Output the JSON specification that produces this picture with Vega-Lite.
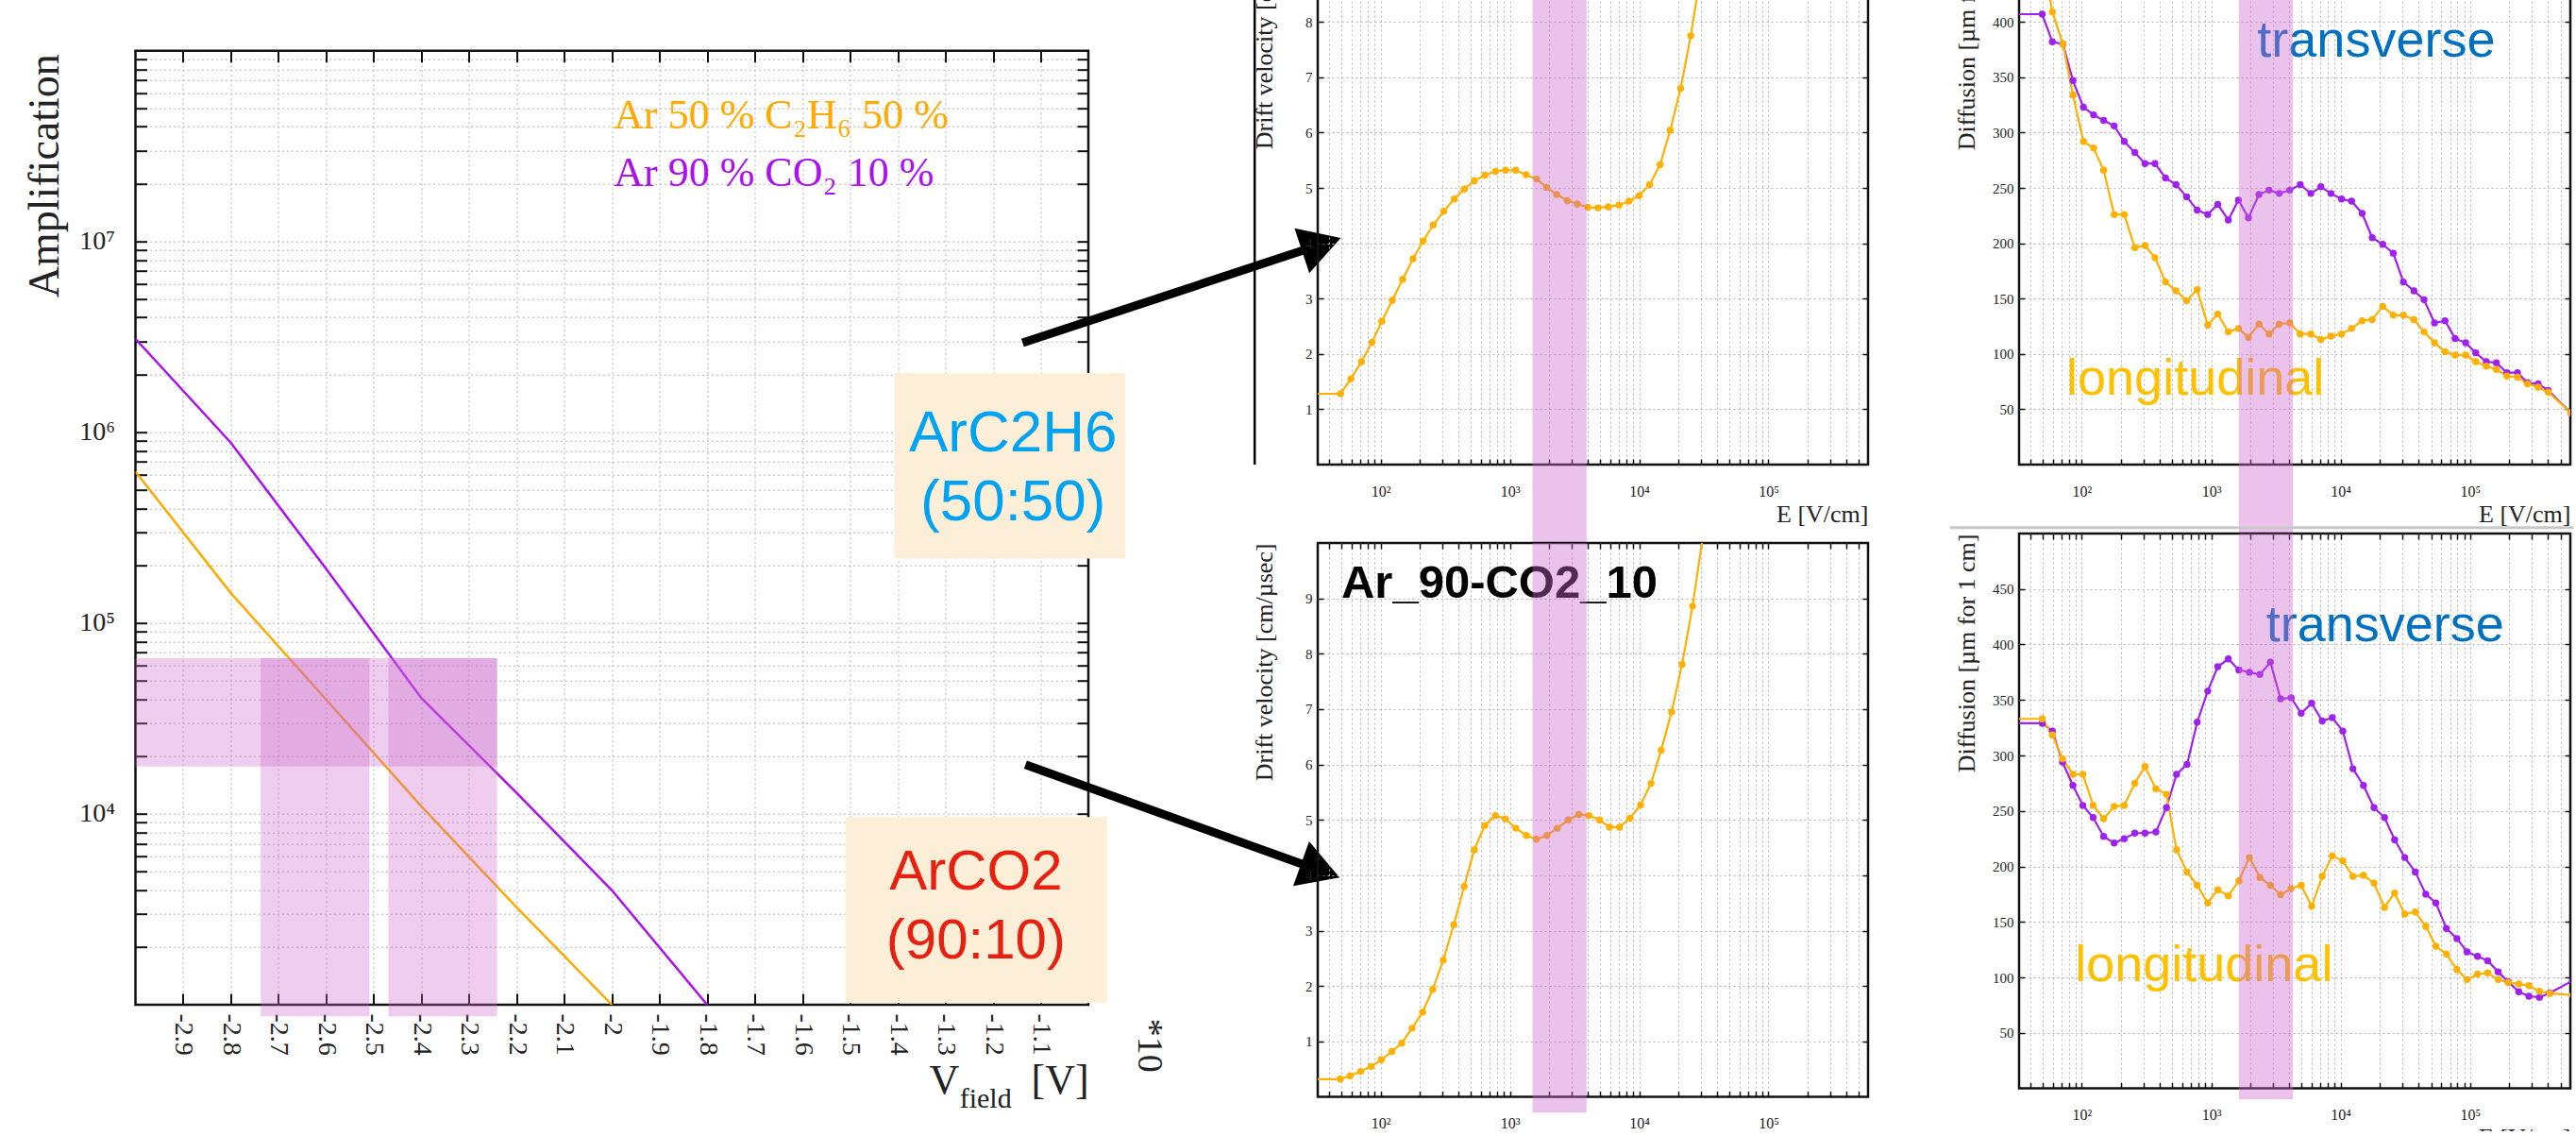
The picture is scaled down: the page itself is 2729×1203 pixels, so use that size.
{
  "$schema": "https://vega.github.io/schema/vega-lite/v6.json",
  "background": "white",
  "padding": {"left": 22.5, "top": -97, "right": 0, "bottom": -30},
  "bounds": "flush",
  "spacing": 1252.5,
  "hconcat": [
    {
      "bounds": "flush",
      "spacing": 47.7,
      "vconcat": [
        {
          "width": 1009.5,
          "height": 100,
          "view": {"stroke": null},
          "data": {"values": [{"a": 1}]},
          "mark": {"type": "text", "text": " "},
          "encoding": {}
        },
        {
          "width": 1009.5,
          "height": 1010.3,
          "resolve": {"axis": {"x": "independent", "y": "independent"}},
          "layer": [
            {
              "data": {"values": [
                {"gas": "ArC2H6", "V": -3, "amp": 622000},
                {"gas": "ArC2H6", "V": -2.8, "amp": 144000},
                {"gas": "ArC2H6", "V": -2.6, "amp": 39800},
                {"gas": "ArC2H6", "V": -2.4, "amp": 10960},
                {"gas": "ArC2H6", "V": -2.2, "amp": 3240},
                {"gas": "ArC2H6", "V": -2, "amp": 1000},
                {"gas": "ArCO2", "V": -3, "amp": 3090000},
                {"gas": "ArCO2", "V": -2.8, "amp": 883000},
                {"gas": "ArCO2", "V": -2.6, "amp": 193000},
                {"gas": "ArCO2", "V": -2.4, "amp": 40500},
                {"gas": "ArCO2", "V": -2.2, "amp": 12900},
                {"gas": "ArCO2", "V": -2, "amp": 3980},
                {"gas": "ArCO2", "V": -1.8, "amp": 1000}
              ]},
              "mark": {"type": "line", "strokeWidth": 2.5, "clip": true},
              "encoding": {
                "x": {"field": "V", "type": "quantitative",
                  "scale": {"domain": [-3, -1], "nice": false, "zero": false},
                  "axis": {"values": [-2.9, -2.8, -2.7, -2.6, -2.5, -2.4, -2.3, -2.2, -2.1, -2, -1.9, -1.8, -1.7, -1.6, -1.5, -1.4, -1.3, -1.2, -1.1],
                    "labelExpr": "'' + datum.value", "labelAngle": 90, "labelAlign": "left", "labelBaseline": "middle",
                    "labelFontSize": 28, "labelPadding": 21, "tickSize": -12, "tickWidth": 2, "grid": true, "title": null}},
                "y": {"field": "amp", "type": "quantitative",
                  "scale": {"type": "log", "domain": [1000, 100000000], "nice": false},
                  "axis": {"values": [2000, 3000, 4000, 5000, 6000, 7000, 8000, 9000, 10000, 20000, 30000, 40000, 50000, 60000, 70000, 80000, 90000, 100000, 200000, 300000, 400000, 500000, 600000, 700000, 800000, 900000, 1000000, 2000000, 3000000, 4000000, 5000000, 6000000, 7000000, 8000000, 9000000, 10000000, 20000000, 30000000, 40000000, 50000000, 60000000, 70000000, 80000000, 90000000],
                    "labelExpr": "datum.value == 10000 ? '10⁴' : datum.value == 100000 ? '10⁵' : datum.value == 1000000 ? '10⁶' : datum.value == 10000000 ? '10⁷' : ''",
                    "labelFontSize": 28, "labelPadding": 34, "tickSize": -12, "tickWidth": 2, "grid": true,
                    "title": "Amplification", "titleFontSize": 46, "titleAngle": -90, "titleX": -82, "titleY": 3,
                    "titleAlign": "right", "titleBaseline": "alphabetic"}},
                "color": {"field": "gas", "type": "nominal", "scale": {"domain": ["ArC2H6", "ArCO2", "transverse", "longitudinal"], "range": ["#ffaa00", "#aa10f0", "#a020f0", "#ffb000"]}, "legend": null}
              }
            },
            {
              "data": {"values": [{"V": -2, "amp": 10000}]},
              "mark": {"type": "point", "opacity": 0},
              "encoding": {
                "x": {"field": "V", "type": "quantitative",
                  "axis": {"orient": "top", "values": [-2.9, -2.8, -2.7, -2.6, -2.5, -2.4, -2.3, -2.2, -2.1, -2, -1.9, -1.8, -1.7, -1.6, -1.5, -1.4, -1.3, -1.2, -1.1],
                    "labels": false, "grid": false, "tickSize": -12, "tickWidth": 2, "title": null}},
                "y": {"field": "amp", "type": "quantitative",
                  "axis": {"orient": "right", "values": [2000, 3000, 4000, 5000, 6000, 7000, 8000, 9000, 10000, 20000, 30000, 40000, 50000, 60000, 70000, 80000, 90000, 100000, 200000, 300000, 400000, 500000, 600000, 700000, 800000, 900000, 1000000, 2000000, 3000000, 4000000, 5000000, 6000000, 7000000, 8000000, 9000000, 10000000, 20000000, 30000000, 40000000, 50000000, 60000000, 70000000, 80000000, 90000000],
                    "labels": false, "grid": false, "tickSize": -12, "tickWidth": 2, "title": null}}
              }
            },
            {
              "data": {"values": [
                {"x1": -3, "x2": -2.241, "y1": 17700, "y2": 65500},
                {"x1": -2.737, "x2": -2.509, "y1": 870, "y2": 65500},
                {"x1": -2.469, "x2": -2.241, "y1": 870, "y2": 65500}
              ]},
              "mark": {"type": "rect", "color": "#cc66cc", "opacity": 0.33, "clip": false},
              "encoding": {
                "x": {"field": "x1", "type": "quantitative", "axis": null},
                "x2": {"field": "x2"},
                "y": {"field": "y1", "type": "quantitative", "axis": null},
                "y2": {"field": "y2"}
              }
            },
            {
              "data": {"values": [
                {"gas": "ArC2H6", "label": "Ar 50 % C₂H₆ 50 %", "x": -1.996, "y": 39170000},
                {"gas": "ArCO2", "label": "Ar 90 % CO₂ 10 %", "x": -1.996, "y": 19450000}
              ]},
              "mark": {"type": "text", "font": "Liberation Serif", "fontSize": 44, "align": "left", "baseline": "alphabetic"},
              "encoding": {
                "x": {"field": "x", "type": "quantitative", "axis": null},
                "y": {"field": "y", "type": "quantitative", "axis": null},
                "text": {"field": "label"},
                "color": {"field": "gas", "type": "nominal", "legend": null}
              }
            },
            {
              "data": {"values": [
                {"x1": -1.407, "x2": -0.922, "y1": 217800, "y2": 2046000},
                {"x1": -1.51, "x2": -0.961, "y1": 1019, "y2": 9638}
              ]},
              "mark": {"type": "rect", "color": "#fdefd7", "opacity": 1, "clip": false},
              "encoding": {
                "x": {"field": "x1", "type": "quantitative", "axis": null},
                "x2": {"field": "x2"},
                "y": {"field": "y1", "type": "quantitative", "axis": null},
                "y2": {"field": "y2"}
              }
            },
            {
              "data": {"values": [
                {"label": "ArC2H6", "x": -1.158, "y": 794300},
                {"label": "(50:50)", "x": -1.158, "y": 345100}
              ]},
              "mark": {"type": "text", "font": "Liberation Sans", "fontSize": 62, "align": "center", "baseline": "alphabetic", "color": "#00a2f2", "clip": false},
              "encoding": {
                "x": {"field": "x", "type": "quantitative", "axis": null},
                "y": {"field": "y", "type": "quantitative", "axis": null},
                "text": {"field": "label"}
              }
            },
            {
              "data": {"values": [
                {"label": "ArCO2", "x": -1.236, "y": 4009},
                {"label": "(90:10)", "x": -1.236, "y": 1742}
              ]},
              "mark": {"type": "text", "font": "Liberation Sans", "fontSize": 60, "align": "center", "baseline": "alphabetic", "color": "#e82010", "clip": false},
              "encoding": {
                "x": {"field": "x", "type": "quantitative", "axis": null},
                "y": {"field": "y", "type": "quantitative", "axis": null},
                "text": {"field": "label"}
              }
            },
            {
              "data": {"values": [
                {"label": "V", "x": -1.3337, "y": 341},
                {"label": "[V]", "x": -1.1198, "y": 341}
              ]},
              "mark": {"type": "text", "font": "Liberation Serif", "fontSize": 44, "align": "left", "baseline": "alphabetic", "color": "#222", "clip": false},
              "encoding": {
                "x": {"field": "x", "type": "quantitative", "axis": null},
                "y": {"field": "y", "type": "quantitative", "axis": null},
                "text": {"field": "label"}
              }
            },
            {
              "data": {"values": [{"label": "field", "x": -1.2701, "y": 288}]},
              "mark": {"type": "text", "font": "Liberation Serif", "fontSize": 30, "align": "left", "baseline": "alphabetic", "color": "#222", "clip": false},
              "encoding": {
                "x": {"field": "x", "type": "quantitative", "axis": null},
                "y": {"field": "y", "type": "quantitative", "axis": null},
                "text": {"field": "label"}
              }
            },
            {
              "data": {"values": [{"label": "*10", "x": -0.8723, "y": 611}]},
              "mark": {"type": "text", "font": "Liberation Serif", "fontSize": 38, "align": "center", "baseline": "middle", "angle": 90, "color": "#222", "clip": false},
              "encoding": {
                "x": {"field": "x", "type": "quantitative", "axis": null},
                "y": {"field": "y", "type": "quantitative", "axis": null},
                "text": {"field": "label"}
              }
            },
            {
              "data": {"values": [
                {"x": -1.138, "y": 2944000, "x2": -0.511, "y2": 9660000},
                {"x": -1.132, "y": 18110, "x2": -0.513, "y2": 5047}
              ]},
              "mark": {"type": "rule", "color": "black", "strokeWidth": 9, "clip": false},
              "encoding": {
                "x": {"field": "x", "type": "quantitative", "axis": null},
                "y": {"field": "y", "type": "quantitative", "axis": null},
                "x2": {"field": "x2"},
                "y2": {"field": "y2"}
              }
            },
            {
              "data": {"values": [{"x": -0.511, "y": 9660000}]},
              "mark": {"type": "point", "shape": "triangle-right", "size": 2500, "filled": true, "color": "black", "opacity": 1, "angle": -18.2, "clip": false},
              "encoding": {
                "x": {"field": "x", "type": "quantitative", "axis": null},
                "y": {"field": "y", "type": "quantitative", "axis": null}
              }
            },
            {
              "data": {"values": [{"x": -0.513, "y": 5047}]},
              "mark": {"type": "point", "shape": "triangle-right", "size": 2500, "filled": true, "color": "black", "opacity": 1, "angle": 19.7, "clip": false},
              "encoding": {
                "x": {"field": "x", "type": "quantitative", "axis": null},
                "y": {"field": "y", "type": "quantitative", "axis": null}
              }
            }
          ]
        }
      ]
    },
    {
      "bounds": "flush",
      "spacing": 743,
      "hconcat": [
        {
          "bounds": "flush",
          "spacing": 83,
          "vconcat": [
            {
              "width": 583,
              "height": 586,
              "resolve": {"axis": {"x": "independent", "y": "independent"}},
              "layer": [
                {
                  "data": {"name": "midTop", "values": [
                    {"E": 30, "v": 1.28}, {"E": 49, "v": 1.28}, {"E": 58.9, "v": 1.55}, {"E": 71, "v": 1.86}, {"E": 85.8, "v": 2.21},
                    {"E": 102, "v": 2.59}, {"E": 123, "v": 2.97}, {"E": 148, "v": 3.35}, {"E": 178, "v": 3.72}, {"E": 213, "v": 4.04},
                    {"E": 255, "v": 4.33}, {"E": 308, "v": 4.58}, {"E": 371, "v": 4.8}, {"E": 444, "v": 4.98}, {"E": 531, "v": 5.13},
                    {"E": 641, "v": 5.23}, {"E": 773, "v": 5.3}, {"E": 925, "v": 5.32}, {"E": 1107, "v": 5.32}, {"E": 1334, "v": 5.24},
                    {"E": 1610, "v": 5.16}, {"E": 1926, "v": 5.01}, {"E": 2303, "v": 4.88}, {"E": 2779, "v": 4.77}, {"E": 3324, "v": 4.71},
                    {"E": 4010, "v": 4.65}, {"E": 4797, "v": 4.64}, {"E": 5785, "v": 4.66}, {"E": 6980, "v": 4.69}, {"E": 8340, "v": 4.76},
                    {"E": 9970, "v": 4.86}, {"E": 12050, "v": 5.06}, {"E": 14530, "v": 5.42}, {"E": 17380, "v": 6.04}, {"E": 20950, "v": 6.8},
                    {"E": 25070, "v": 7.75}, {"E": 30000, "v": 8.9}, {"E": 36000, "v": 10.2}
                  ]},
                  "mark": {"type": "line", "color": "#ffb000", "strokeWidth": 2.2, "clip": true},
                  "encoding": {
                    "x": {"field": "E", "type": "quantitative",
                      "scale": {"type": "log", "domain": [32.6, 590000], "nice": false},
                      "axis": {"values": [40, 50, 60, 70, 80, 90, 100, 200, 300, 400, 500, 600, 700, 800, 900, 1000, 2000, 3000, 4000, 5000, 6000, 7000, 8000, 9000, 10000, 20000, 30000, 40000, 50000, 60000, 70000, 80000, 90000, 100000, 200000, 300000, 400000, 500000],
                        "labelExpr": "datum.value == 100 ? '10²' : datum.value == 1000 ? '10³' : datum.value == 10000 ? '10⁴' : datum.value == 100000 ? '10⁵' : ''",
                        "labelFontSize": 16, "labelPadding": 26, "labelBaseline": "top", "tickSize": -6, "tickWidth": 1.5, "grid": true,
                        "title": "E [V/cm]", "titleFontSize": 26, "titleX": 583, "titleY": 60, "titleAlign": "right", "titleBaseline": "alphabetic"}},
                    "y": {"field": "v", "type": "quantitative",
                      "scale": {"domain": [0, 10], "nice": false, "zero": false},
                      "axis": {"values": [1, 2, 3, 4, 5, 6, 7, 8, 9], "labelFontSize": 15, "labelPadding": 12, "tickSize": -6, "tickWidth": 1.5, "grid": true,
                        "title": "Drift velocity [cm/µsec]", "titleFontSize": 26, "titleAngle": -90, "titleX": -49, "titleY": 0, "titleAlign": "right", "titleBaseline": "alphabetic"}}
                  }
                },
                {
                  "data": {"name": "midTop"},
                  "mark": {"type": "point", "filled": true, "size": 55, "color": "#ffb000", "opacity": 1, "clip": true},
                  "encoding": {
                    "x": {"field": "E", "type": "quantitative", "axis": null},
                    "y": {"field": "v", "type": "quantitative", "axis": null}
                  }
                },
                {
                  "data": {"values": [{"E": 1000, "v": 5}]},
                  "mark": {"type": "point", "opacity": 0},
                  "encoding": {
                    "x": {"field": "E", "type": "quantitative",
                      "axis": {"orient": "top", "values": [40, 50, 60, 70, 80, 90, 100, 200, 300, 400, 500, 600, 700, 800, 900, 1000, 2000, 3000, 4000, 5000, 6000, 7000, 8000, 9000, 10000, 20000, 30000, 40000, 50000, 60000, 70000, 80000, 90000, 100000, 200000, 300000, 400000, 500000],
                        "labels": false, "grid": false, "tickSize": -6, "tickWidth": 1.5, "title": null}},
                    "y": {"field": "v", "type": "quantitative",
                      "axis": {"orient": "right", "values": [1, 2, 3, 4, 5, 6, 7, 8, 9], "labels": false, "grid": false, "tickSize": -6, "tickWidth": 1.5, "title": null}}
                  }
                },
                {
                  "data": {"values": [{"E": 10.6, "v1": 0, "v2": 10}]},
                  "mark": {"type": "rule", "color": "black", "strokeWidth": 2.5, "clip": false},
                  "encoding": {
                    "x": {"field": "E", "type": "quantitative", "axis": null},
                    "y": {"field": "v1", "type": "quantitative", "axis": null},
                    "y2": {"field": "v2"}
                  }
                },
                {
                  "data": {"values": [{"E1": 1496, "E2": 3917, "v1": -1.41, "v2": 10}]},
                  "mark": {"type": "rect", "color": "#cc66cc", "opacity": 0.4, "clip": false},
                  "encoding": {
                    "x": {"field": "E1", "type": "quantitative", "axis": null},
                    "x2": {"field": "E2"},
                    "y": {"field": "v1", "type": "quantitative", "axis": null},
                    "y2": {"field": "v2"}
                  }
                }
              ]
            },
            {
              "width": 583,
              "height": 586.6,
              "resolve": {"axis": {"x": "independent", "y": "independent"}},
              "layer": [
                {
                  "data": {"name": "midBottom", "values": [
                    {"E": 30, "v": 0.32}, {"E": 48.6, "v": 0.32}, {"E": 58, "v": 0.38}, {"E": 70, "v": 0.46}, {"E": 84.4, "v": 0.55},
                    {"E": 101, "v": 0.67}, {"E": 122, "v": 0.82}, {"E": 145.5, "v": 0.97}, {"E": 175, "v": 1.24}, {"E": 211, "v": 1.53},
                    {"E": 253, "v": 1.94}, {"E": 305, "v": 2.47}, {"E": 368, "v": 3.11}, {"E": 443, "v": 3.8}, {"E": 530, "v": 4.46},
                    {"E": 639, "v": 4.9}, {"E": 771, "v": 5.08}, {"E": 922, "v": 5.02}, {"E": 1111, "v": 4.85}, {"E": 1341, "v": 4.72},
                    {"E": 1603, "v": 4.65}, {"E": 1933, "v": 4.72}, {"E": 2330, "v": 4.85}, {"E": 2831, "v": 5.0}, {"E": 3417, "v": 5.1},
                    {"E": 4087, "v": 5.08}, {"E": 4929, "v": 5.0}, {"E": 5894, "v": 4.87}, {"E": 7047, "v": 4.87}, {"E": 8491, "v": 5.03},
                    {"E": 10250, "v": 5.27}, {"E": 12360, "v": 5.66}, {"E": 14790, "v": 6.26}, {"E": 17830, "v": 6.95}, {"E": 21490, "v": 7.81},
                    {"E": 25900, "v": 8.86}, {"E": 31000, "v": 10.1}
                  ]},
                  "mark": {"type": "line", "color": "#ffb000", "strokeWidth": 2.2, "clip": true},
                  "encoding": {
                    "x": {"field": "E", "type": "quantitative",
                      "scale": {"type": "log", "domain": [32.6, 590000], "nice": false},
                      "axis": {"values": [40, 50, 60, 70, 80, 90, 100, 200, 300, 400, 500, 600, 700, 800, 900, 1000, 2000, 3000, 4000, 5000, 6000, 7000, 8000, 9000, 10000, 20000, 30000, 40000, 50000, 60000, 70000, 80000, 90000, 100000, 200000, 300000, 400000, 500000],
                        "labelExpr": "datum.value == 100 ? '10²' : datum.value == 1000 ? '10³' : datum.value == 10000 ? '10⁴' : datum.value == 100000 ? '10⁵' : ''",
                        "labelFontSize": 16, "labelPadding": 26, "labelBaseline": "top", "tickSize": -6, "tickWidth": 1.5, "grid": true,
                        "title": "E [V/cm]", "titleFontSize": 26, "titleX": 583, "titleY": 60, "titleAlign": "right", "titleBaseline": "alphabetic"}},
                    "y": {"field": "v", "type": "quantitative",
                      "scale": {"domain": [0, 10], "nice": false, "zero": false},
                      "axis": {"values": [1, 2, 3, 4, 5, 6, 7, 8, 9], "labelFontSize": 15, "labelPadding": 12, "tickSize": -6, "tickWidth": 1.5, "grid": true,
                        "title": "Drift velocity [cm/µsec]", "titleFontSize": 26, "titleAngle": -90, "titleX": -49, "titleY": 0, "titleAlign": "right", "titleBaseline": "alphabetic"}}
                  }
                },
                {
                  "data": {"name": "midBottom"},
                  "mark": {"type": "point", "filled": true, "size": 55, "color": "#ffb000", "opacity": 1, "clip": true},
                  "encoding": {
                    "x": {"field": "E", "type": "quantitative", "axis": null},
                    "y": {"field": "v", "type": "quantitative", "axis": null}
                  }
                },
                {
                  "data": {"values": [{"E": 1000, "v": 5}]},
                  "mark": {"type": "point", "opacity": 0},
                  "encoding": {
                    "x": {"field": "E", "type": "quantitative",
                      "axis": {"orient": "top", "values": [40, 50, 60, 70, 80, 90, 100, 200, 300, 400, 500, 600, 700, 800, 900, 1000, 2000, 3000, 4000, 5000, 6000, 7000, 8000, 9000, 10000, 20000, 30000, 40000, 50000, 60000, 70000, 80000, 90000, 100000, 200000, 300000, 400000, 500000],
                        "labels": false, "grid": false, "tickSize": -6, "tickWidth": 1.5, "title": null}},
                    "y": {"field": "v", "type": "quantitative",
                      "axis": {"orient": "right", "values": [1, 2, 3, 4, 5, 6, 7, 8, 9], "labels": false, "grid": false, "tickSize": -6, "tickWidth": 1.5, "title": null}}
                  }
                },
                {
                  "data": {"values": [{"label": "Ar_90-CO2_10", "E": 49.6, "v": 9.006}]},
                  "mark": {"type": "text", "font": "Liberation Sans", "fontWeight": "bold", "fontSize": 49, "align": "left", "baseline": "alphabetic", "color": "black"},
                  "encoding": {
                    "x": {"field": "E", "type": "quantitative", "axis": null},
                    "y": {"field": "v", "type": "quantitative", "axis": null},
                    "text": {"field": "label"}
                  }
                },
                {
                  "data": {"values": [{"E1": 1496, "E2": 3917, "v1": -0.285, "v2": 10}]},
                  "mark": {"type": "rect", "color": "#cc66cc", "opacity": 0.4, "clip": false},
                  "encoding": {
                    "x": {"field": "E1", "type": "quantitative", "axis": null},
                    "x2": {"field": "E2"},
                    "y": {"field": "v1", "type": "quantitative", "axis": null},
                    "y2": {"field": "v2"}
                  }
                }
              ]
            }
          ]
        },
        {
          "bounds": "flush",
          "spacing": 73,
          "vconcat": [
            {
              "width": 584,
              "height": 586,
              "resolve": {"axis": {"x": "independent", "y": "independent"}},
              "layer": [
                {
                  "data": {"name": "rightTop", "values": [
                    {"kind": "transverse", "E": 30, "D": 407}, {"kind": "transverse", "E": 49.5, "D": 407}, {"kind": "transverse", "E": 59.3, "D": 382},
                    {"kind": "transverse", "E": 71.5, "D": 380}, {"kind": "transverse", "E": 85.5, "D": 347}, {"kind": "transverse", "E": 103, "D": 323},
                    {"kind": "transverse", "E": 123.5, "D": 316}, {"kind": "transverse", "E": 147.6, "D": 311}, {"kind": "transverse", "E": 178, "D": 306},
                    {"kind": "transverse", "E": 213, "D": 292}, {"kind": "transverse", "E": 257, "D": 282}, {"kind": "transverse", "E": 308, "D": 272},
                    {"kind": "transverse", "E": 368, "D": 272}, {"kind": "transverse", "E": 444, "D": 259}, {"kind": "transverse", "E": 535, "D": 253},
                    {"kind": "transverse", "E": 646, "D": 242}, {"kind": "transverse", "E": 780, "D": 230}, {"kind": "transverse", "E": 940, "D": 226},
                    {"kind": "transverse", "E": 1125, "D": 235}, {"kind": "transverse", "E": 1356, "D": 221}, {"kind": "transverse", "E": 1622, "D": 239},
                    {"kind": "transverse", "E": 1941, "D": 223}, {"kind": "transverse", "E": 2340, "D": 244}, {"kind": "transverse", "E": 2800, "D": 248},
                    {"kind": "transverse", "E": 3350, "D": 245}, {"kind": "transverse", "E": 4045, "D": 248}, {"kind": "transverse", "E": 4877, "D": 253},
                    {"kind": "transverse", "E": 5880, "D": 245}, {"kind": "transverse", "E": 7035, "D": 251}, {"kind": "transverse", "E": 8413, "D": 245},
                    {"kind": "transverse", "E": 10160, "D": 240}, {"kind": "transverse", "E": 12160, "D": 238}, {"kind": "transverse", "E": 14660, "D": 227},
                    {"kind": "transverse", "E": 17540, "D": 205}, {"kind": "transverse", "E": 21150, "D": 199}, {"kind": "transverse", "E": 25510, "D": 191},
                    {"kind": "transverse", "E": 30540, "D": 165}, {"kind": "transverse", "E": 36810, "D": 157}, {"kind": "transverse", "E": 44060, "D": 149},
                    {"kind": "transverse", "E": 53110, "D": 128}, {"kind": "transverse", "E": 64060, "D": 130}, {"kind": "transverse", "E": 76680, "D": 114},
                    {"kind": "transverse", "E": 92480, "D": 110}, {"kind": "transverse", "E": 110600, "D": 101}, {"kind": "transverse", "E": 133400, "D": 93},
                    {"kind": "transverse", "E": 159700, "D": 92}, {"kind": "transverse", "E": 192600, "D": 83}, {"kind": "transverse", "E": 232300, "D": 83},
                    {"kind": "transverse", "E": 278000, "D": 74}, {"kind": "transverse", "E": 335300, "D": 73}, {"kind": "transverse", "E": 401100, "D": 67},
                    {"kind": "transverse", "E": 600000, "D": 47},
                    {"kind": "longitudinal", "E": 30, "D": 460}, {"kind": "longitudinal", "E": 49.5, "D": 460}, {"kind": "longitudinal", "E": 59.3, "D": 409},
                    {"kind": "longitudinal", "E": 71.5, "D": 380}, {"kind": "longitudinal", "E": 85.5, "D": 334}, {"kind": "longitudinal", "E": 103, "D": 292},
                    {"kind": "longitudinal", "E": 123.5, "D": 286}, {"kind": "longitudinal", "E": 147.6, "D": 266}, {"kind": "longitudinal", "E": 178, "D": 226},
                    {"kind": "longitudinal", "E": 213, "D": 226}, {"kind": "longitudinal", "E": 257, "D": 196}, {"kind": "longitudinal", "E": 308, "D": 198},
                    {"kind": "longitudinal", "E": 368, "D": 187}, {"kind": "longitudinal", "E": 444, "D": 165}, {"kind": "longitudinal", "E": 535, "D": 157},
                    {"kind": "longitudinal", "E": 646, "D": 148}, {"kind": "longitudinal", "E": 780, "D": 158}, {"kind": "longitudinal", "E": 940, "D": 126},
                    {"kind": "longitudinal", "E": 1125, "D": 136}, {"kind": "longitudinal", "E": 1356, "D": 120}, {"kind": "longitudinal", "E": 1622, "D": 123},
                    {"kind": "longitudinal", "E": 1941, "D": 115}, {"kind": "longitudinal", "E": 2340, "D": 127}, {"kind": "longitudinal", "E": 2800, "D": 118},
                    {"kind": "longitudinal", "E": 3350, "D": 127}, {"kind": "longitudinal", "E": 4045, "D": 128}, {"kind": "longitudinal", "E": 4877, "D": 118},
                    {"kind": "longitudinal", "E": 5880, "D": 118}, {"kind": "longitudinal", "E": 7035, "D": 113}, {"kind": "longitudinal", "E": 8413, "D": 116},
                    {"kind": "longitudinal", "E": 10160, "D": 118}, {"kind": "longitudinal", "E": 12160, "D": 123}, {"kind": "longitudinal", "E": 14660, "D": 130},
                    {"kind": "longitudinal", "E": 17540, "D": 131}, {"kind": "longitudinal", "E": 21150, "D": 143}, {"kind": "longitudinal", "E": 25510, "D": 135},
                    {"kind": "longitudinal", "E": 30540, "D": 135}, {"kind": "longitudinal", "E": 36810, "D": 131}, {"kind": "longitudinal", "E": 44060, "D": 120},
                    {"kind": "longitudinal", "E": 53110, "D": 110}, {"kind": "longitudinal", "E": 64060, "D": 102}, {"kind": "longitudinal", "E": 76680, "D": 99},
                    {"kind": "longitudinal", "E": 92480, "D": 99}, {"kind": "longitudinal", "E": 110600, "D": 93}, {"kind": "longitudinal", "E": 133400, "D": 89},
                    {"kind": "longitudinal", "E": 159700, "D": 86}, {"kind": "longitudinal", "E": 192600, "D": 80}, {"kind": "longitudinal", "E": 232300, "D": 79},
                    {"kind": "longitudinal", "E": 278000, "D": 73}, {"kind": "longitudinal", "E": 335300, "D": 70}, {"kind": "longitudinal", "E": 401100, "D": 65.5},
                    {"kind": "longitudinal", "E": 600000, "D": 47}
                  ]},
                  "mark": {"type": "line", "strokeWidth": 2.2, "clip": true},
                  "encoding": {
                    "x": {"field": "E", "type": "quantitative",
                      "scale": {"type": "log", "domain": [32.8, 595000], "nice": false},
                      "axis": {"values": [40, 50, 60, 70, 80, 90, 100, 200, 300, 400, 500, 600, 700, 800, 900, 1000, 2000, 3000, 4000, 5000, 6000, 7000, 8000, 9000, 10000, 20000, 30000, 40000, 50000, 60000, 70000, 80000, 90000, 100000, 200000, 300000, 400000, 500000],
                        "labelExpr": "datum.value == 100 ? '10²' : datum.value == 1000 ? '10³' : datum.value == 10000 ? '10⁴' : datum.value == 100000 ? '10⁵' : ''",
                        "labelFontSize": 16, "labelPadding": 26, "labelBaseline": "top", "tickSize": -6, "tickWidth": 1.5, "grid": true,
                        "title": "E [V/cm]", "titleFontSize": 26, "titleX": 584, "titleY": 60, "titleAlign": "right", "titleBaseline": "alphabetic"}},
                    "y": {"field": "D", "type": "quantitative",
                      "scale": {"domain": [0, 500], "nice": false, "zero": false},
                      "axis": {"values": [50, 100, 150, 200, 250, 300, 350, 400, 450], "labelFontSize": 15, "labelPadding": 12, "tickSize": -6, "tickWidth": 1.5, "grid": true,
                        "title": "Diffusion [µm for 1 cm]", "titleFontSize": 26, "titleAngle": -90, "titleX": -48, "titleY": 0, "titleAlign": "right", "titleBaseline": "alphabetic"}},
                    "color": {"field": "kind", "type": "nominal", "scale": {"domain": ["ArC2H6", "ArCO2", "transverse", "longitudinal"], "range": ["#ffaa00", "#aa10f0", "#a020f0", "#ffb000"]}, "legend": null}
                  }
                },
                {
                  "data": {"name": "rightTop"},
                  "mark": {"type": "point", "filled": true, "size": 55, "opacity": 1, "clip": true},
                  "encoding": {
                    "x": {"field": "E", "type": "quantitative", "axis": null},
                    "y": {"field": "D", "type": "quantitative", "axis": null},
                    "color": {"field": "kind", "type": "nominal", "legend": null}
                  }
                },
                {
                  "data": {"values": [{"E": 1000, "D": 100}]},
                  "mark": {"type": "point", "opacity": 0},
                  "encoding": {
                    "x": {"field": "E", "type": "quantitative",
                      "axis": {"orient": "top", "values": [40, 50, 60, 70, 80, 90, 100, 200, 300, 400, 500, 600, 700, 800, 900, 1000, 2000, 3000, 4000, 5000, 6000, 7000, 8000, 9000, 10000, 20000, 30000, 40000, 50000, 60000, 70000, 80000, 90000, 100000, 200000, 300000, 400000, 500000],
                        "labels": false, "grid": false, "tickSize": -6, "tickWidth": 1.5, "title": null}},
                    "y": {"field": "D", "type": "quantitative",
                      "axis": {"orient": "right", "values": [50, 100, 150, 200, 250, 300, 350, 400, 450], "labels": false, "grid": false, "tickSize": -6, "tickWidth": 1.5, "title": null}}
                  }
                },
                {
                  "data": {"values": [{"label": "transverse", "E": 2270, "D": 368.5}]},
                  "mark": {"type": "text", "font": "Liberation Sans", "fontSize": 54, "align": "left", "baseline": "alphabetic", "color": "#0070c0"},
                  "encoding": {
                    "x": {"field": "E", "type": "quantitative", "axis": null},
                    "y": {"field": "D", "type": "quantitative", "axis": null},
                    "text": {"field": "label"}
                  }
                },
                {
                  "data": {"values": [{"label": "longitudinal", "E": 76, "D": 63.2}]},
                  "mark": {"type": "text", "font": "Liberation Sans", "fontSize": 54, "align": "left", "baseline": "alphabetic", "color": "#ffc000"},
                  "encoding": {
                    "x": {"field": "E", "type": "quantitative", "axis": null},
                    "y": {"field": "D", "type": "quantitative", "axis": null},
                    "text": {"field": "label"}
                  }
                },
                {
                  "data": {"values": [{"E1": 1636, "E2": 4285, "D1": -61.6, "D2": 500}]},
                  "mark": {"type": "rect", "color": "#cc66cc", "opacity": 0.4, "clip": false},
                  "encoding": {
                    "x": {"field": "E1", "type": "quantitative", "axis": null},
                    "x2": {"field": "E2"},
                    "y": {"field": "D1", "type": "quantitative", "axis": null},
                    "y2": {"field": "D2"}
                  }
                },
                {
                  "data": {"values": [{"E1": 9.6, "E2": 630000, "D": -56.9}]},
                  "mark": {"type": "rule", "color": "#c8c8c8", "strokeWidth": 3, "clip": false},
                  "encoding": {
                    "x": {"field": "E1", "type": "quantitative", "axis": null},
                    "x2": {"field": "E2"},
                    "y": {"field": "D", "type": "quantitative", "axis": null}
                  }
                }
              ]
            },
            {
              "width": 584,
              "height": 587.5,
              "resolve": {"axis": {"x": "independent", "y": "independent"}},
              "layer": [
                {
                  "data": {"name": "rightBottom", "values": [
                    {"kind": "transverse", "E": 30, "D": 329}, {"kind": "transverse", "E": 49.5, "D": 329}, {"kind": "transverse", "E": 59.3, "D": 322},
                    {"kind": "transverse", "E": 71, "D": 294}, {"kind": "transverse", "E": 85.5, "D": 273}, {"kind": "transverse", "E": 102, "D": 255},
                    {"kind": "transverse", "E": 122.5, "D": 244}, {"kind": "transverse", "E": 147.6, "D": 227}, {"kind": "transverse", "E": 178, "D": 221},
                    {"kind": "transverse", "E": 213, "D": 225}, {"kind": "transverse", "E": 257, "D": 230}, {"kind": "transverse", "E": 308, "D": 230},
                    {"kind": "transverse", "E": 374, "D": 231}, {"kind": "transverse", "E": 451, "D": 253}, {"kind": "transverse", "E": 540, "D": 283},
                    {"kind": "transverse", "E": 651, "D": 292}, {"kind": "transverse", "E": 780, "D": 330}, {"kind": "transverse", "E": 940, "D": 358},
                    {"kind": "transverse", "E": 1125, "D": 380}, {"kind": "transverse", "E": 1356, "D": 387}, {"kind": "transverse", "E": 1636, "D": 377},
                    {"kind": "transverse", "E": 1973, "D": 375}, {"kind": "transverse", "E": 2379, "D": 373}, {"kind": "transverse", "E": 2868, "D": 384},
                    {"kind": "transverse", "E": 3435, "D": 351}, {"kind": "transverse", "E": 4143, "D": 352}, {"kind": "transverse", "E": 4955, "D": 338},
                    {"kind": "transverse", "E": 5975, "D": 347}, {"kind": "transverse", "E": 7205, "D": 331}, {"kind": "transverse", "E": 8623, "D": 334},
                    {"kind": "transverse", "E": 10400, "D": 322}, {"kind": "transverse", "E": 12450, "D": 288}, {"kind": "transverse", "E": 15010, "D": 273},
                    {"kind": "transverse", "E": 18100, "D": 253}, {"kind": "transverse", "E": 21830, "D": 244}, {"kind": "transverse", "E": 26130, "D": 224},
                    {"kind": "transverse", "E": 31280, "D": 208}, {"kind": "transverse", "E": 37710, "D": 195}, {"kind": "transverse", "E": 45480, "D": 175},
                    {"kind": "transverse", "E": 54430, "D": 167}, {"kind": "transverse", "E": 65640, "D": 144}, {"kind": "transverse", "E": 79150, "D": 135},
                    {"kind": "transverse", "E": 94700, "D": 123}, {"kind": "transverse", "E": 114200, "D": 119}, {"kind": "transverse", "E": 136700, "D": 115},
                    {"kind": "transverse", "E": 164900, "D": 105}, {"kind": "transverse", "E": 197300, "D": 96}, {"kind": "transverse", "E": 237800, "D": 87},
                    {"kind": "transverse", "E": 284600, "D": 83}, {"kind": "transverse", "E": 343400, "D": 82}, {"kind": "transverse", "E": 414000, "D": 86},
                    {"kind": "transverse", "E": 620000, "D": 97},
                    {"kind": "longitudinal", "E": 30, "D": 333}, {"kind": "longitudinal", "E": 49.5, "D": 333}, {"kind": "longitudinal", "E": 59.3, "D": 318.5},
                    {"kind": "longitudinal", "E": 71, "D": 297}, {"kind": "longitudinal", "E": 85.5, "D": 283}, {"kind": "longitudinal", "E": 102, "D": 283},
                    {"kind": "longitudinal", "E": 122.5, "D": 255}, {"kind": "longitudinal", "E": 147.6, "D": 243}, {"kind": "longitudinal", "E": 178, "D": 254},
                    {"kind": "longitudinal", "E": 213, "D": 255}, {"kind": "longitudinal", "E": 257, "D": 275}, {"kind": "longitudinal", "E": 308, "D": 290},
                    {"kind": "longitudinal", "E": 374, "D": 270}, {"kind": "longitudinal", "E": 451, "D": 265}, {"kind": "longitudinal", "E": 540, "D": 215},
                    {"kind": "longitudinal", "E": 651, "D": 195}, {"kind": "longitudinal", "E": 780, "D": 183}, {"kind": "longitudinal", "E": 940, "D": 167},
                    {"kind": "longitudinal", "E": 1125, "D": 179}, {"kind": "longitudinal", "E": 1356, "D": 173.5}, {"kind": "longitudinal", "E": 1636, "D": 187},
                    {"kind": "longitudinal", "E": 1973, "D": 208}, {"kind": "longitudinal", "E": 2379, "D": 190}, {"kind": "longitudinal", "E": 2868, "D": 183},
                    {"kind": "longitudinal", "E": 3435, "D": 174.5}, {"kind": "longitudinal", "E": 4143, "D": 180}, {"kind": "longitudinal", "E": 4955, "D": 183},
                    {"kind": "longitudinal", "E": 5975, "D": 164}, {"kind": "longitudinal", "E": 7205, "D": 191}, {"kind": "longitudinal", "E": 8623, "D": 209.5},
                    {"kind": "longitudinal", "E": 10400, "D": 205}, {"kind": "longitudinal", "E": 12450, "D": 191}, {"kind": "longitudinal", "E": 15010, "D": 192},
                    {"kind": "longitudinal", "E": 18100, "D": 185}, {"kind": "longitudinal", "E": 21830, "D": 163}, {"kind": "longitudinal", "E": 26130, "D": 176},
                    {"kind": "longitudinal", "E": 31280, "D": 157}, {"kind": "longitudinal", "E": 37710, "D": 159}, {"kind": "longitudinal", "E": 45480, "D": 146},
                    {"kind": "longitudinal", "E": 54430, "D": 128}, {"kind": "longitudinal", "E": 65640, "D": 121}, {"kind": "longitudinal", "E": 79150, "D": 107},
                    {"kind": "longitudinal", "E": 94700, "D": 98}, {"kind": "longitudinal", "E": 114200, "D": 103}, {"kind": "longitudinal", "E": 136700, "D": 104},
                    {"kind": "longitudinal", "E": 164900, "D": 98}, {"kind": "longitudinal", "E": 197300, "D": 95.4}, {"kind": "longitudinal", "E": 237800, "D": 94},
                    {"kind": "longitudinal", "E": 284600, "D": 92.6}, {"kind": "longitudinal", "E": 343400, "D": 87.4}, {"kind": "longitudinal", "E": 414000, "D": 85.6},
                    {"kind": "longitudinal", "E": 620000, "D": 84}
                  ]},
                  "mark": {"type": "line", "strokeWidth": 2.2, "clip": true},
                  "encoding": {
                    "x": {"field": "E", "type": "quantitative",
                      "scale": {"type": "log", "domain": [32.8, 595000], "nice": false},
                      "axis": {"values": [40, 50, 60, 70, 80, 90, 100, 200, 300, 400, 500, 600, 700, 800, 900, 1000, 2000, 3000, 4000, 5000, 6000, 7000, 8000, 9000, 10000, 20000, 30000, 40000, 50000, 60000, 70000, 80000, 90000, 100000, 200000, 300000, 400000, 500000],
                        "labelExpr": "datum.value == 100 ? '10²' : datum.value == 1000 ? '10³' : datum.value == 10000 ? '10⁴' : datum.value == 100000 ? '10⁵' : ''",
                        "labelFontSize": 16, "labelPadding": 26, "labelBaseline": "top", "tickSize": -6, "tickWidth": 1.5, "grid": true,
                        "title": "E [V/cm]", "titleFontSize": 26, "titleX": 584, "titleY": 60, "titleAlign": "right", "titleBaseline": "alphabetic"}},
                    "y": {"field": "D", "type": "quantitative",
                      "scale": {"domain": [0, 500], "nice": false, "zero": false},
                      "axis": {"values": [50, 100, 150, 200, 250, 300, 350, 400, 450], "labelFontSize": 15, "labelPadding": 12, "tickSize": -6, "tickWidth": 1.5, "grid": true,
                        "title": "Diffusion [µm for 1 cm]", "titleFontSize": 26, "titleAngle": -90, "titleX": -48, "titleY": 0, "titleAlign": "right", "titleBaseline": "alphabetic"}},
                    "color": {"field": "kind", "type": "nominal", "scale": {"domain": ["ArC2H6", "ArCO2", "transverse", "longitudinal"], "range": ["#ffaa00", "#aa10f0", "#a020f0", "#ffb000"]}, "legend": null}
                  }
                },
                {
                  "data": {"name": "rightBottom"},
                  "mark": {"type": "point", "filled": true, "size": 55, "opacity": 1, "clip": true},
                  "encoding": {
                    "x": {"field": "E", "type": "quantitative", "axis": null},
                    "y": {"field": "D", "type": "quantitative", "axis": null},
                    "color": {"field": "kind", "type": "nominal", "legend": null}
                  }
                },
                {
                  "data": {"values": [{"E": 1000, "D": 100}]},
                  "mark": {"type": "point", "opacity": 0},
                  "encoding": {
                    "x": {"field": "E", "type": "quantitative",
                      "axis": {"orient": "top", "values": [40, 50, 60, 70, 80, 90, 100, 200, 300, 400, 500, 600, 700, 800, 900, 1000, 2000, 3000, 4000, 5000, 6000, 7000, 8000, 9000, 10000, 20000, 30000, 40000, 50000, 60000, 70000, 80000, 90000, 100000, 200000, 300000, 400000, 500000],
                        "labels": false, "grid": false, "tickSize": -6, "tickWidth": 1.5, "title": null}},
                    "y": {"field": "D", "type": "quantitative",
                      "axis": {"orient": "right", "values": [50, 100, 150, 200, 250, 300, 350, 400, 450], "labels": false, "grid": false, "tickSize": -6, "tickWidth": 1.5, "title": null}}
                  }
                },
                {
                  "data": {"values": [{"label": "transverse", "E": 2657, "D": 402.6}]},
                  "mark": {"type": "text", "font": "Liberation Sans", "fontSize": 54, "align": "left", "baseline": "alphabetic", "color": "#0070c0"},
                  "encoding": {
                    "x": {"field": "E", "type": "quantitative", "axis": null},
                    "y": {"field": "D", "type": "quantitative", "axis": null},
                    "text": {"field": "label"}
                  }
                },
                {
                  "data": {"values": [{"label": "longitudinal", "E": 88.6, "D": 96.5}]},
                  "mark": {"type": "text", "font": "Liberation Sans", "fontSize": 54, "align": "left", "baseline": "alphabetic", "color": "#ffc000"},
                  "encoding": {
                    "x": {"field": "E", "type": "quantitative", "axis": null},
                    "y": {"field": "D", "type": "quantitative", "axis": null},
                    "text": {"field": "label"}
                  }
                },
                {
                  "data": {"values": [{"E1": 1636, "E2": 4285, "D1": -10, "D2": 500}]},
                  "mark": {"type": "rect", "color": "#cc66cc", "opacity": 0.4, "clip": false},
                  "encoding": {
                    "x": {"field": "E1", "type": "quantitative", "axis": null},
                    "x2": {"field": "E2"},
                    "y": {"field": "D1", "type": "quantitative", "axis": null},
                    "y2": {"field": "D2"}
                  }
                }
              ]
            }
          ]
        }
      ]
    }
  ],
  "config": {
    "view": {"stroke": "#111", "strokeWidth": 2.5},
    "axis": {
      "labelFont": "Liberation Serif", "titleFont": "Liberation Serif", "labelColor": "#222", "titleColor": "#222",
      "titleFontWeight": "normal", "domain": false, "tickColor": "#111", "gridColor": "#b4b4b4", "gridDash": [2, 3],
      "gridWidth": 1, "labelOverlap": false, "labelFlush": false, "labelBound": false
    },
    "text": {"font": "Liberation Sans"}
  }
}
